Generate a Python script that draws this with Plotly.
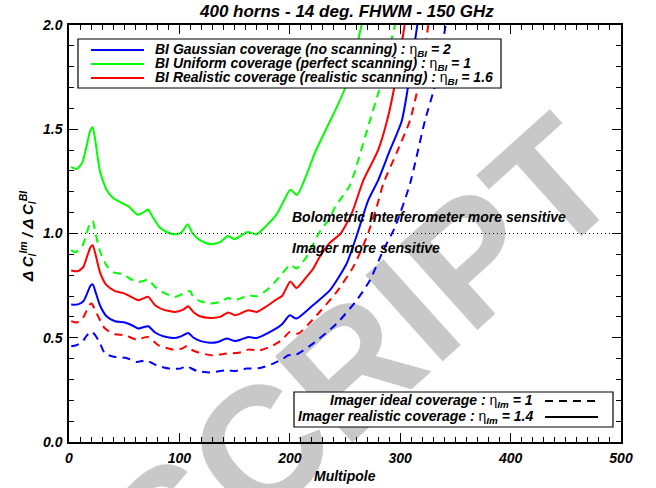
import plotly.graph_objects as go

# ---------------- data ----------------
green_solid_l = [2, 7, 12, 16, 19, 21.5, 24, 28, 34, 40, 48, 54, 62, 67, 71.5, 76, 82, 89, 96, 102,
                 107.5, 112, 119, 128, 137, 144, 150, 156, 162, 170, 179, 188, 194, 200.5, 206.5, 215,
                 223, 236, 242, 251, 258, 265]
green_solid_v = [1.32, 1.31, 1.34, 1.42, 1.49, 1.51, 1.44, 1.30, 1.21, 1.17, 1.146, 1.13, 1.09, 1.10,
                 1.115, 1.078, 1.03, 1.006, 0.996, 1.006, 1.044, 1.001, 0.967, 0.948, 0.959, 0.988,
                 0.972, 0.99, 1.007, 0.996, 1.039, 1.092, 1.151, 1.21, 1.185, 1.28, 1.39, 1.535,
                 1.60, 1.71, 1.84, 2.0]

green_dash_l = [2, 6, 12, 16, 19, 21.5, 24, 28, 34, 40, 49, 58, 63, 67, 72, 78, 86, 96, 103.5, 109.5,
                112.5, 119, 128, 137, 144, 150, 156, 162, 170, 179, 188, 195, 200.5, 206, 215, 227,
                236, 241, 254.5, 259, 272.6, 281, 288, 295.3]
green_dash_v = [0.92, 0.91, 0.94, 1.00, 1.05, 1.06, 1.00, 0.916, 0.847, 0.815, 0.803, 0.776, 0.767,
                0.772, 0.779, 0.743, 0.715, 0.696, 0.712, 0.724, 0.696, 0.675, 0.664, 0.672, 0.691,
                0.680, 0.690, 0.704, 0.699, 0.728, 0.776, 0.82, 0.851, 0.832, 0.887, 1.007, 1.071,
                1.127, 1.231, 1.30, 1.542, 1.69, 1.84, 2.0]

red_solid_l = [2, 8, 13, 17, 19.5, 21.5, 24, 28, 34, 41.7, 48.6, 55, 62.8, 67, 71.8, 78, 85.4, 96,
               103.5, 108, 112.6, 118.7, 127.7, 136.8, 144.3, 150.4, 156, 162.4, 170, 179, 188, 193,
               200.5, 206, 215, 221, 227, 236, 246, 256, 266.6, 280, 289, 296, 304]
red_solid_v = [0.823, 0.819, 0.84, 0.90, 0.935, 0.943, 0.90, 0.815, 0.752, 0.724, 0.715, 0.70, 0.680,
               0.688, 0.696, 0.656, 0.635, 0.624, 0.635, 0.651, 0.624, 0.603, 0.595, 0.600, 0.621,
               0.608, 0.618, 0.632, 0.624, 0.651, 0.684, 0.70, 0.77, 0.739, 0.791, 0.83, 0.887,
               0.954, 1.0, 1.095, 1.255, 1.40, 1.56, 1.74, 2.0]

red_dash_l = [2, 7, 12, 16, 19, 20.5, 23, 26.6, 32.6, 41.7, 50.7, 61.3, 66, 71.8, 81, 94.5, 102,
              106.6, 110, 115.7, 129, 142.8, 151.9, 157, 162.4, 173, 185, 193, 200, 207.7, 216,
              224.4, 242.5, 257.5, 269.7, 278.7, 284.7, 297, 308.9, 316.4, 325.5]
red_dash_v = [0.58, 0.573, 0.59, 0.63, 0.66, 0.664, 0.64, 0.60, 0.544, 0.517, 0.512, 0.491, 0.498,
              0.504, 0.464, 0.443, 0.448, 0.459, 0.445, 0.432, 0.416, 0.424, 0.427, 0.432, 0.443,
              0.44, 0.464, 0.49, 0.528, 0.52, 0.56, 0.608, 0.72, 0.84, 0.983, 1.127, 1.239, 1.39,
              1.543, 1.71, 2.0]

blue_solid_l = [2, 8, 13, 17, 19.5, 21.5, 24, 28, 34, 41.7, 50.7, 57, 62.8, 67, 71.8, 78, 85.4, 96,
                102, 108, 112.6, 118.7, 127.7, 135, 142.8, 150.4, 156, 162.4, 170, 185, 193, 200,
                206, 221, 236.4, 251.5, 260.6, 271, 280, 290, 301.4, 307.3, 315.5]
blue_solid_v = [0.659, 0.66, 0.675, 0.72, 0.75, 0.756, 0.72, 0.656, 0.603, 0.579, 0.573, 0.56, 0.544,
                0.55, 0.555, 0.525, 0.507, 0.499, 0.508, 0.523, 0.501, 0.485, 0.476, 0.48, 0.496,
                0.484, 0.492, 0.504, 0.499, 0.536, 0.565, 0.608, 0.592, 0.656, 0.728, 0.856, 0.99,
                1.159, 1.255, 1.39, 1.54, 1.71, 2.0]

blue_dash_l = [2, 6.5, 12, 16, 19, 21, 24, 28, 32.6, 41.7, 52, 61, 66, 70, 79, 91.5, 100.5, 106.6,
               110, 115.7, 127.7, 142.8, 150, 155, 161, 173, 185, 194, 198.6, 206, 221, 242.5,
               260.6, 272.6, 284.7, 295.3, 308.9, 322.5, 331.5, 341.2]
blue_dash_v = [0.459, 0.464, 0.48, 0.51, 0.525, 0.528, 0.51, 0.475, 0.424, 0.408, 0.403, 0.384,
               0.388, 0.392, 0.368, 0.352, 0.352, 0.365, 0.355, 0.341, 0.333, 0.344, 0.34, 0.345,
               0.352, 0.355, 0.376, 0.40, 0.416, 0.42, 0.472, 0.568, 0.68, 0.776, 0.92, 1.031,
               1.239, 1.543, 1.71, 2.0]

ref_x = [0, 500]
ref_y = [1.0, 1.0]

x_ticks = [0, 100, 200, 300, 400, 500]
y_ticks = [0.0, 0.5, 1.0, 1.5, 2.0]

title_text = "400 horns - 14 deg. FHWM - 150 GHz"
x_title = "Multipole"
y_title = "Δ C<sub>l</sub><sup>Im</sup> / Δ C<sub>l</sub><sup>BI</sup>"
eta = '<span style="font-style:normal;font-weight:normal">η</span>'
legend1 = [
    ("BI Gaussian coverage (no scanning) : " + eta + "<sub>BI</sub> = 2", "#0000ff"),
    ("BI Uniform coverage (perfect scanning) : " + eta + "<sub>BI</sub> = 1", "#00ff00"),
    ("BI Realistic coverage (realistic scanning) : " + eta + "<sub>BI</sub> = 1.6", "#ff0000"),
]
legend2 = [
    ("Imager ideal coverage : " + eta + "<sub>Im</sub> = 1", "dash"),
    ("Imager realistic coverage : " + eta + "<sub>Im</sub> = 1.4", "solid"),
]
note_hi = "Bolometric Interferometer more sensitive"
note_lo = "Imager more sensitive"
watermark = "SCRIPT"

# ---------------- figure ----------------
W, H = 656, 488
L, R, T, B = 69, 35, 25, 46
PW, PH = W - L - R, H - T - B


def px(x):
    """window pixel x -> paper x"""
    return (x - L) / PW


def py(y):
    """window pixel y -> paper y"""
    return (H - B - y) / PH


FONT = "Liberation Sans, Arial, Helvetica, sans-serif"
BI = dict(family=FONT, weight="bold", style="italic", color="black")
DASH = "8px,6px"

fig = go.Figure()
series = [
    (green_solid_l, green_solid_v, "#00ff00", "solid"),
    (green_dash_l, green_dash_v, "#00ff00", DASH),
    (red_solid_l, red_solid_v, "#ff0000", "solid"),
    (red_dash_l, red_dash_v, "#ff0000", DASH),
    (blue_solid_l, blue_solid_v, "#0000ff", "solid"),
    (blue_dash_l, blue_dash_v, "#0000ff", DASH),
]
for lx, ly, col, dash in series:
    fig.add_trace(go.Scatter(x=lx, y=ly, mode="lines",
                             line=dict(color=col, width=2, dash=dash, shape="spline", smoothing=0.6),
                             showlegend=False, hoverinfo="skip"))
fig.add_trace(go.Scatter(x=ref_x, y=ref_y, mode="lines",
                         line=dict(color="black", width=1, dash="1px,3px"),
                         showlegend=False, hoverinfo="skip"))

axis_common = dict(showgrid=False, zeroline=False, showline=True, linecolor="black", linewidth=1.5,
                   mirror="ticks", ticks="inside", ticklen=9, tickwidth=1.2, tickcolor="black",
                   tickfont=dict(size=14, **BI))
fig.update_xaxes(range=[0, 500], tickvals=x_ticks, ticktext=[str(v) for v in x_ticks],
                 minor=dict(ticks="inside", dtick=10, ticklen=5, tickwidth=1, tickcolor="black"),
                 ticklabelstandoff=2, **axis_common)
fig.update_yaxes(range=[0, 2], tickvals=y_ticks, ticktext=["%.1f" % v for v in y_ticks],
                 minor=dict(ticks="inside", dtick=0.1, ticklen=5, tickwidth=1, tickcolor="black"),
                 ticklabelstandoff=2, **axis_common)

shapes = []
annotations = []

# watermark (drawn below the data)
shapes.append(dict(type="rect", xref="paper", yref="paper", layer="below",
                   x0=px(300), x1=px(400), y0=py(395), y1=py(295), line=dict(width=0),
                   fillcolor="rgba(0,0,0,0)",
                   label=dict(text=watermark, textangle=-42, textposition="middle center",
                              font=dict(family=FONT, size=168, weight="bold", color="#c8c8c8"))))

# title and axis titles
annotations.append(dict(text=title_text, xref="paper", yref="paper", x=px(346), y=py(12),
                        showarrow=False, xanchor="center", yanchor="middle", font=dict(size=17, **BI)))
annotations.append(dict(text=x_title, xref="paper", yref="paper", x=px(345), y=py(476),
                        showarrow=False, xanchor="center", yanchor="middle", font=dict(size=14, **BI)))
annotations.append(dict(text=y_title, xref="paper", yref="paper", x=px(28), y=py(236), textangle=-90,
                        showarrow=False, xanchor="center", yanchor="middle", font=dict(size=15, **BI)))

# region notes
annotations.append(dict(text=note_hi, xref="paper", yref="paper", x=px(290), y=py(217),
                        showarrow=False, xanchor="left", yanchor="middle", font=dict(size=14, **BI)))
annotations.append(dict(text=note_lo, xref="paper", yref="paper", x=px(290), y=py(248),
                        showarrow=False, xanchor="left", yanchor="middle", font=dict(size=14, **BI)))

# legend 1
shapes.append(dict(type="rect", xref="paper", yref="paper", x0=px(78), x1=px(501), y0=py(88), y1=py(39),
                   line=dict(color="black", width=1.2), fillcolor="white"))
for i, (txt, col) in enumerate(legend1):
    yy = [50, 64, 78][i]
    shapes.append(dict(type="line", xref="paper", yref="paper", x0=px(91), x1=px(144), y0=py(yy), y1=py(yy),
                       line=dict(color=col, width=2)))
    annotations.append(dict(text=txt, xref="paper", yref="paper", x=px(153), y=py(yy), showarrow=False,
                            xanchor="left", yanchor="middle", font=dict(size=14, **BI)))

# legend 2
shapes.append(dict(type="rect", xref="paper", yref="paper", x0=px(294), x1=px(613), y0=py(427), y1=py(392),
                   line=dict(color="black", width=1.2), fillcolor="white"))
for i, (txt, dash) in enumerate(legend2):
    yy = [401, 417][i]
    shapes.append(dict(type="line", xref="paper", yref="paper", x0=px(545), x1=px(598), y0=py(yy), y1=py(yy),
                       line=dict(color="black", width=2, dash=DASH if dash == "dash" else "solid")))
    annotations.append(dict(text=txt, xref="paper", yref="paper", x=px(535), y=py(yy), showarrow=False,
                            xanchor="right", yanchor="middle", font=dict(size=14, **BI)))

fig.update_layout(width=W, height=H, margin=dict(l=L, r=R, t=T, b=B, autoexpand=False),
                  paper_bgcolor="white", plot_bgcolor="white", showlegend=False,
                  shapes=shapes, annotations=annotations)

# remove the default 8px page margin so the figure sits at the window corner
fig.write_html("out.html", config={"displayModeBar": False},
               post_script="document.body.style.margin='0px';")
